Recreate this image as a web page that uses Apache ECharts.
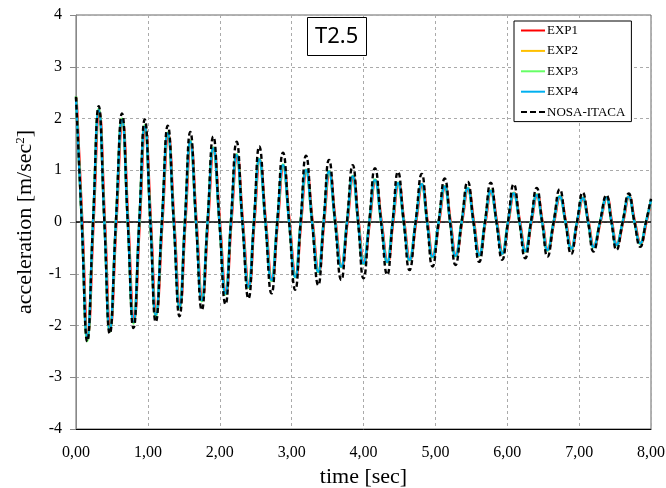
<!DOCTYPE html>
<html>
<head>
<meta charset="utf-8">
<script src="https://cdn.jsdelivr.net/npm/echarts@6/dist/echarts.min.js"></script>
<style>
  html, body { margin: 0; padding: 0; background: #fff; }
  #chart { width: 666px; height: 488px; }
</style>
</head>
<body>
<div id="chart"></div>
<script>
// times [sec] of the positive peaks, the negative troughs and the zero crossings
const peakTimes = [0, 0.316, 0.64, 0.957, 1.277, 1.59, 1.91, 2.235, 2.55, 2.88, 3.20, 3.52, 3.85,
  4.16, 4.48, 4.81, 5.13, 5.45, 5.77, 6.09, 6.41, 6.73, 7.05, 7.38, 7.69];
const troughTimes = [0.157, 0.47, 0.80, 1.11, 1.44, 1.75, 2.08, 2.40, 2.72, 3.05, 3.37, 3.69, 4.00,
  4.33, 4.64, 4.96, 5.28, 5.61, 5.93, 6.25, 6.56, 6.89, 7.20, 7.52, 7.85];
const crossTimes = [0.08, 0.237, 0.395, 0.555, 0.72, 0.88, 1.035, 1.195, 1.36, 1.515, 1.67, 1.83,
  1.995, 2.155, 2.315, 2.475, 2.635, 2.80, 2.965, 3.125, 3.285, 3.445, 3.605, 3.77, 3.925, 4.08,
  4.245, 4.405, 4.56, 4.725, 4.885, 5.045, 5.205, 5.365, 5.53, 5.69, 5.85, 6.01, 6.17, 6.33,
  6.485, 6.645, 6.81, 6.97, 7.125, 7.29, 7.45, 7.605, 7.77, 7.93];
const endTime = 8.0;
// EXP1 (red) runs a little behind the others
const exp1Lag = 0.008;

// acceleration [m/sec2] at those times
const nosaPeaks = [2.42, 2.24, 2.10, 1.98, 1.86, 1.74, 1.65, 1.55, 1.46, 1.34, 1.28, 1.20, 1.10,
  1.04, 0.97, 0.93, 0.84, 0.78, 0.76, 0.73, 0.66, 0.63, 0.57, 0.52, 0.55];
const nosaTroughs = [-2.31, -2.16, -2.05, -1.93, -1.82, -1.70, -1.59, -1.48, -1.38, -1.31, -1.22,
  -1.12, -1.09, -1.02, -0.93, -0.86, -0.83, -0.77, -0.73, -0.70, -0.67, -0.62, -0.57, -0.54, -0.48];
const nosaEnd = 0.45;

const exp1Peaks = [2.40, 2.14, 1.95, 1.82, 1.69, 1.53, 1.40, 1.28, 1.20, 1.09, 1.00, 0.96, 0.88,
  0.81, 0.75, 0.72, 0.68, 0.65, 0.60, 0.56, 0.52, 0.49, 0.46, 0.47, 0.49];
const exp1Troughs = [-2.18, -2.05, -1.90, -1.78, -1.62, -1.50, -1.37, -1.24, -1.12, -1.06, -0.96,
  -0.86, -0.80, -0.77, -0.73, -0.67, -0.65, -0.64, -0.60, -0.56, -0.54, -0.51, -0.48, -0.44, -0.41];
const exp2Peaks = [2.40, 2.16, 1.97, 1.84, 1.71, 1.55, 1.42, 1.29, 1.21, 1.10, 1.00, 0.97, 0.88,
  0.81, 0.75, 0.73, 0.68, 0.65, 0.60, 0.55, 0.52, 0.49, 0.46, 0.47, 0.49];
const exp2Troughs = [-2.22, -2.09, -1.93, -1.80, -1.64, -1.51, -1.38, -1.25, -1.12, -1.06, -0.96,
  -0.86, -0.80, -0.77, -0.73, -0.67, -0.65, -0.64, -0.61, -0.56, -0.54, -0.51, -0.48, -0.44, -0.41];
const exp3Peaks = [2.43, 2.19, 2.00, 1.87, 1.73, 1.57, 1.44, 1.31, 1.22, 1.11, 1.01, 0.98, 0.89,
  0.82, 0.76, 0.73, 0.69, 0.66, 0.61, 0.56, 0.53, 0.50, 0.47, 0.47, 0.49];
const exp3Troughs = [-2.30, -2.12, -1.96, -1.83, -1.66, -1.53, -1.40, -1.27, -1.14, -1.07, -0.97,
  -0.87, -0.81, -0.78, -0.74, -0.68, -0.66, -0.65, -0.61, -0.57, -0.55, -0.52, -0.49, -0.45, -0.42];
const exp4Peaks = [2.40, 2.16, 1.97, 1.84, 1.71, 1.55, 1.42, 1.29, 1.21, 1.10, 1.00, 0.97, 0.88,
  0.81, 0.75, 0.73, 0.68, 0.65, 0.60, 0.55, 0.52, 0.49, 0.46, 0.47, 0.49];
const exp4Troughs = [-2.22, -2.09, -1.93, -1.80, -1.64, -1.51, -1.38, -1.25, -1.12, -1.06, -0.96,
  -0.86, -0.80, -0.77, -0.73, -0.67, -0.65, -0.64, -0.61, -0.56, -0.54, -0.51, -0.48, -0.44, -0.41];
const expEnd = 0.42;

const yTicks = [-4, -3, -2, -1, 0, 1, 2, 3, 4];

// peak, crossing, trough, crossing, ... , end
function buildPoints(peaks, troughs, end, lag) {
  const pts = [];
  for (let k = 0; k < peakTimes.length; k++) {
    pts.push([peakTimes[k] + lag, peaks[k]]);
    pts.push([crossTimes[2 * k] + lag, 0]);
    pts.push([troughTimes[k] + lag, troughs[k]]);
    pts.push([crossTimes[2 * k + 1] + lag, 0]);
  }
  pts.push([endTime, end]);
  return pts;
}

const serif = '"Liberation Serif", "DejaVu Serif", serif';
const solidIcon = 'path://M0,0h24v2h-24z';
const dashIcon = 'path://M0,0h6v2h-6z M9,0h6v2h-6z M18,0h6v2h-6z';

function expSeries(name, color, peaks, troughs, lag) {
  return {
    name: name,
    type: 'line',
    data: buildPoints(peaks, troughs, expEnd, lag),
    smooth: 0.5,
    symbol: 'none',
    lineStyle: { color: color, width: 2.4 },
    itemStyle: { color: color },
    z: 2
  };
}

const chart = echarts.init(document.getElementById('chart'), null, { renderer: 'canvas' });

chart.setOption({
  animation: false,
  backgroundColor: '#fff',
  title: {
    text: 'T2.5',
    left: 307,
    top: 17,
    padding: [8, 8, 8, 8],
    borderColor: '#000',
    borderWidth: 1,
    backgroundColor: '#fff',
    textStyle: { fontFamily: '"Noto Sans", sans-serif', fontSize: 22, fontWeight: 'normal', color: '#000', lineHeight: 23 }
  },
  legend: {
    orient: 'vertical',
    left: 514,
    top: 21,
    padding: [3, 6, 3, 7],
    itemGap: 7.4,
    itemWidth: 24,
    itemHeight: 12,
    backgroundColor: '#fff',
    borderColor: '#000',
    borderWidth: 1,
    borderRadius: 0,
    itemStyle: { borderWidth: 0 },
    textStyle: { fontFamily: serif, fontSize: 13, color: '#000', padding: [0, 0, 0, -3] },
    data: [
      { name: 'EXP1', icon: solidIcon },
      { name: 'EXP2', icon: solidIcon },
      { name: 'EXP3', icon: solidIcon },
      { name: 'EXP4', icon: solidIcon },
      { name: 'NOSA-ITACA', icon: dashIcon }
    ]
  },
  grid: {
    left: 76,
    right: 15,
    top: 15,
    bottom: 59,
    outerBoundsMode: 'none',
    show: true,
    borderColor: '#666',
    borderWidth: 1
  },
  xAxis: {
    type: 'value',
    min: 0,
    max: 8,
    interval: 1,
    name: 'time [sec]',
    nameLocation: 'middle',
    nameGap: 35,
    nameTextStyle: { fontFamily: serif, fontSize: 22, color: '#000' },
    axisLine: { onZero: false, lineStyle: { color: '#000', width: 1 } },
    axisTick: { show: false },
    axisLabel: {
      margin: 16,
      fontFamily: serif,
      fontSize: 16,
      color: '#000',
      formatter: v => v.toFixed(2).replace('.', ',')
    },
    splitLine: { show: true, lineStyle: { color: '#aaa', type: [3, 3], width: 1 } }
  },
  yAxis: {
    type: 'value',
    min: yTicks[0],
    max: yTicks[yTicks.length - 1],
    interval: 1,
    name: 'acceleration [m/sec{sup|2}]',
    nameLocation: 'middle',
    nameRotate: 90,
    nameGap: 40,
    nameTextStyle: {
      fontFamily: serif, fontSize: 22, color: '#000',
      rich: { sup: { fontFamily: serif, fontSize: 13, color: '#000', padding: [0, 0, 9, 0] } }
    },
    axisLine: { show: true, lineStyle: { color: '#888', width: 1 } },
    axisTick: { show: true, inside: false, length: 6, lineStyle: { color: '#888' } },
    axisLabel: { margin: 14, fontFamily: serif, fontSize: 16, color: '#000' },
    splitLine: { show: true, lineStyle: { color: '#aaa', type: [3, 3], width: 1 } }
  },
  series: [
    expSeries('EXP1', '#ff0000', exp1Peaks, exp1Troughs, exp1Lag),
    expSeries('EXP2', '#ffc000', exp2Peaks, exp2Troughs, 0),
    expSeries('EXP3', '#66ff66', exp3Peaks, exp3Troughs, 0),
    expSeries('EXP4', '#00b0f0', exp4Peaks, exp4Troughs, 0),
    {
      name: 'NOSA-ITACA',
      type: 'line',
      data: buildPoints(nosaPeaks, nosaTroughs, nosaEnd, 0),
      smooth: 0.5,
      symbol: 'none',
      lineStyle: { color: '#000', width: 2.4, type: [5, 3] },
      itemStyle: { color: '#000' },
      z: 3,
      markLine: {
        silent: true,
        symbol: 'none',
        label: { show: false },
        lineStyle: { color: '#000', type: 'solid', width: 1.5 },
        data: [{ yAxis: 0 }],
        z: 1
      }
    }
  ]
});
</script>
</body>
</html>
